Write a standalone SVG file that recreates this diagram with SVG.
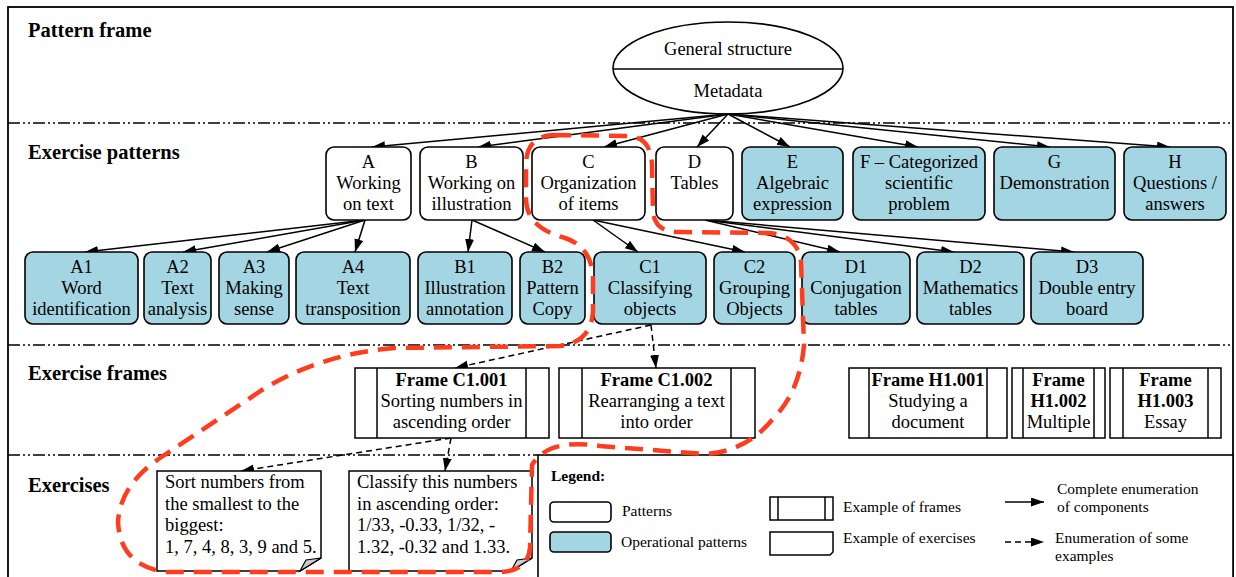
<svg xmlns="http://www.w3.org/2000/svg" width="1236" height="577" viewBox="0 0 1236 577">
<style>
.t{font-family:"Liberation Serif","Times New Roman",serif;font-size:18.5px;fill:#000;text-anchor:middle}
.tl{font-family:"Liberation Serif","Times New Roman",serif;font-size:18.5px;fill:#000}
.b{font-weight:bold}
.sec{font-family:"Liberation Serif","Times New Roman",serif;font-size:20.5px;font-weight:bold;fill:#000}
.lg{font-family:"Liberation Serif","Times New Roman",serif;font-size:15.5px;fill:#000}
.pat{fill:#fff;stroke:#000;stroke-width:1.6}
.op{fill:#a3d6e2;stroke:#000;stroke-width:1.6}
.box{fill:#fff;stroke:#000;stroke-width:1.5}
.sep{stroke:#000;stroke-width:1.5;stroke-dasharray:12 3 2 3 2 3;fill:none}
.c{stroke:#000;stroke-width:1.5;fill:none;marker-end:url(#ah)}
.d{stroke:#000;stroke-width:1.5;fill:none;stroke-dasharray:6 4;marker-end:url(#ah)}
.red{stroke:#ff3c1e;stroke-width:4.5;fill:none;stroke-dasharray:18 10}
</style>
<defs>
<marker id="ah" markerUnits="userSpaceOnUse" markerWidth="14" markerHeight="10" refX="13" refY="4.5" orient="auto">
<path d="M0,0 L13,4.5 L0,9 z" fill="#000"/>
</marker>
</defs>
<rect x="0" y="0" width="1236" height="577" fill="#fff"/>
<rect x="8" y="7" width="1225" height="600" fill="none" stroke="#000" stroke-width="1.8"/>
<line class="sep" x1="8" y1="123" x2="1233" y2="123"/>
<line class="sep" x1="8" y1="345" x2="1233" y2="345"/>
<line class="sep" x1="8" y1="455" x2="538" y2="455"/>
<text class="sec" x="28" y="37">Pattern frame</text>
<text class="sec" x="28" y="159">Exercise patterns</text>
<text class="sec" x="28" y="380">Exercise frames</text>
<text class="sec" x="28" y="492">Exercises</text>

<g id="root">
<ellipse cx="728" cy="68" rx="115" ry="46" fill="#fff" stroke="#000" stroke-width="1.6"/>
<line x1="613" y1="69" x2="843" y2="69" stroke="#000" stroke-width="1.6"/>
<text class="t" x="728" y="55">General structure</text>
<text class="t" x="728" y="97">Metadata</text>
</g>

<g id="connectors">
<path class="c" d="M728,114 L372,147"/>
<path class="c" d="M728,114 L478,147"/>
<path class="c" d="M728,114 L604,147"/>
<path class="c" d="M728,114 L697,147"/>
<path class="c" d="M728,114 L790,147"/>
<path class="c" d="M728,114 L918,147"/>
<path class="c" d="M728,114 L1050,147"/>
<path class="c" d="M728,114 L1170,147"/>
<path class="c" d="M365,220 L85,252"/>
<path class="c" d="M365,220 L183,252"/>
<path class="c" d="M365,220 L267,252"/>
<path class="c" d="M365,220 L355,252"/>
<path class="c" d="M472,220 L468,252"/>
<path class="c" d="M472,220 L545,252"/>
<path class="c" d="M593,220 L638,252"/>
<path class="c" d="M593,220 L745,252"/>
<path class="c" d="M705,220 L840,252"/>
<path class="c" d="M705,220 L954,252"/>
<path class="c" d="M705,220 L1074,252"/>
<path class="d" d="M651,325 L455,368"/>
<path class="d" d="M651,325 L656,368"/>
<path class="d" d="M451,438 L241,471"/>
<path class="d" d="M451,438 L445,471"/>
</g>

<g id="A"><rect class="pat" x="326" y="147" width="85" height="73" rx="8"/><text class="t" x="368.5" y="168">A</text><text class="t" x="368.5" y="189">Working</text><text class="t" x="368.5" y="210">on text</text></g>
<g id="B"><rect class="pat" x="420" y="147" width="103" height="73" rx="8"/><text class="t" x="471.5" y="168">B</text><text class="t" x="471.5" y="189">Working on</text><text class="t" x="471.5" y="210">illustration</text></g>
<g id="C"><rect class="pat" x="532" y="147" width="113" height="73" rx="8"/><text class="t" x="588.5" y="168">C</text><text class="t" x="588.5" y="189">Organization</text><text class="t" x="588.5" y="210">of items</text></g>
<g id="D"><rect class="pat" x="656" y="147" width="77" height="73" rx="8"/><text class="t" x="694.5" y="168">D</text><text class="t" x="694.5" y="189">Tables</text></g>
<g id="E"><rect class="op" x="742" y="147" width="101" height="73" rx="8"/><text class="t" x="792.5" y="168">E</text><text class="t" x="792.5" y="189">Algebraic</text><text class="t" x="792.5" y="210">expression</text></g>
<g id="F"><rect class="op" x="853" y="147" width="132" height="73" rx="8"/><text class="t" x="919" y="168">F – Categorized</text><text class="t" x="919" y="189">scientific</text><text class="t" x="919" y="210">problem</text></g>
<g id="G"><rect class="op" x="994" y="147" width="121" height="73" rx="8"/><text class="t" x="1054.5" y="168">G</text><text class="t" x="1054.5" y="189">Demonstration</text></g>
<g id="H"><rect class="op" x="1124" y="147" width="102" height="73" rx="8"/><text class="t" x="1175" y="168">H</text><text class="t" x="1175" y="189">Questions /</text><text class="t" x="1175" y="210">answers</text></g>

<g id="A1"><rect class="op" x="25" y="252" width="113" height="72" rx="8"/><text class="t" x="81.5" y="273">A1</text><text class="t" x="81.5" y="294">Word</text><text class="t" x="81.5" y="315">identification</text></g>
<g id="A2"><rect class="op" x="144" y="252" width="67" height="72" rx="8"/><text class="t" x="177.5" y="273">A2</text><text class="t" x="177.5" y="294">Text</text><text class="t" x="177.5" y="315">analysis</text></g>
<g id="A3"><rect class="op" x="219" y="252" width="70" height="72" rx="8"/><text class="t" x="254" y="273">A3</text><text class="t" x="254" y="294">Making</text><text class="t" x="254" y="315">sense</text></g>
<g id="A4"><rect class="op" x="296" y="252" width="114" height="72" rx="8"/><text class="t" x="353" y="273">A4</text><text class="t" x="353" y="294">Text</text><text class="t" x="353" y="315">transposition</text></g>
<g id="B1"><rect class="op" x="418" y="252" width="94" height="72" rx="8"/><text class="t" x="465" y="273">B1</text><text class="t" x="465" y="294">Illustration</text><text class="t" x="465" y="315">annotation</text></g>
<g id="B2"><rect class="op" x="520" y="252" width="65" height="72" rx="8"/><text class="t" x="552.5" y="273">B2</text><text class="t" x="552.5" y="294">Pattern</text><text class="t" x="552.5" y="315">Copy</text></g>
<g id="C1"><rect class="op" x="594" y="252" width="112" height="72" rx="8"/><text class="t" x="650" y="273">C1</text><text class="t" x="650" y="294">Classifying</text><text class="t" x="650" y="315">objects</text></g>
<g id="C2"><rect class="op" x="714" y="252" width="81" height="72" rx="8"/><text class="t" x="754.5" y="273">C2</text><text class="t" x="754.5" y="294">Grouping</text><text class="t" x="754.5" y="315">Objects</text></g>
<g id="D1"><rect class="op" x="802" y="252" width="108" height="72" rx="8"/><text class="t" x="856" y="273">D1</text><text class="t" x="856" y="294">Conjugation</text><text class="t" x="856" y="315">tables</text></g>
<g id="D2"><rect class="op" x="917" y="252" width="107" height="72" rx="8"/><text class="t" x="970.5" y="273">D2</text><text class="t" x="970.5" y="294">Mathematics</text><text class="t" x="970.5" y="315">tables</text></g>
<g id="D3"><rect class="op" x="1031" y="252" width="112" height="72" rx="8"/><text class="t" x="1087" y="273">D3</text><text class="t" x="1087" y="294">Double entry</text><text class="t" x="1087" y="315">board</text></g>

<g id="FC1001"><rect class="box" x="355" y="368" width="194" height="70"/><line class="box" x1="377" y1="368" x2="377" y2="438"/><line class="box" x1="526" y1="368" x2="526" y2="438"/><text class="t b" x="451.5" y="386">Frame C1.001</text><text class="t" x="451.5" y="407">Sorting numbers in</text><text class="t" x="451.5" y="428">ascending order</text></g>
<g id="FC1002"><rect class="box" x="559" y="368" width="196" height="70"/><line class="box" x1="582" y1="368" x2="582" y2="438"/><line class="box" x1="731" y1="368" x2="731" y2="438"/><text class="t b" x="656.5" y="386">Frame C1.002</text><text class="t" x="656.5" y="407">Rearranging a text</text><text class="t" x="656.5" y="428">into order</text></g>
<g id="FH1001"><rect class="box" x="849" y="368" width="158" height="70"/><line class="box" x1="869" y1="368" x2="869" y2="438"/><line class="box" x1="987" y1="368" x2="987" y2="438"/><text class="t b" x="928" y="386">Frame H1.001</text><text class="t" x="928" y="407">Studying a</text><text class="t" x="928" y="428">document</text></g>
<g id="FH1002"><rect class="box" x="1012" y="368" width="93" height="70"/><line class="box" x1="1023" y1="368" x2="1023" y2="438"/><line class="box" x1="1094" y1="368" x2="1094" y2="438"/><text class="t b" x="1058.5" y="386">Frame</text><text class="t b" x="1058.5" y="407">H1.002</text><text class="t" x="1058.5" y="428">Multiple</text></g>
<g id="FH1003"><rect class="box" x="1110" y="368" width="111" height="70"/><line class="box" x1="1123" y1="368" x2="1123" y2="438"/><line class="box" x1="1208" y1="368" x2="1208" y2="438"/><text class="t b" x="1165.5" y="386">Frame</text><text class="t b" x="1165.5" y="407">H1.003</text><text class="t" x="1165.5" y="428">Essay</text></g>

<g id="EX1"><path class="box" d="M157,471 H321 V558 L300,571 H157 Z"/><path d="M300,571 L306,560 L321,558 Z" fill="#ccc" stroke="#000" stroke-width="1.2"/><text class="tl" x="165" y="488">Sort numbers from</text><text class="tl" x="165" y="510">the smallest to the</text><text class="tl" x="165" y="531">biggest:</text><text class="tl" x="165" y="553">1, 7, 4, 8, 3, 9 and 5.</text></g>
<g id="EX2"><path class="box" d="M349,471 H532 V558 L511,571 H349 Z"/><path d="M511,571 L517,560 L532,558 Z" fill="#ccc" stroke="#000" stroke-width="1.2"/><text class="tl" x="357" y="488">Classify this numbers</text><text class="tl" x="357" y="510">in ascending order:</text><text class="tl" x="357" y="531">1/33, -0.33, 1/32, -</text><text class="tl" x="357" y="553">1.32, -0.32 and 1.33.</text></g>

<g id="legend">
<rect x="538" y="455" width="695" height="140" fill="#fff" stroke="#000" stroke-width="1.6"/>
<text class="lg b" x="551" y="481">Legend:</text>
<rect class="pat" x="550" y="502" width="61" height="20" rx="4"/>
<text class="lg" x="622" y="516">Patterns</text>
<rect class="op" x="550" y="532" width="61" height="20" rx="4"/>
<text class="lg" x="621" y="547">Operational patterns</text>
<rect class="box" x="770" y="497" width="63" height="23"/>
<line class="box" x1="778" y1="497" x2="778" y2="520"/>
<line class="box" x1="825" y1="497" x2="825" y2="520"/>
<text class="lg" x="843" y="512">Example of frames</text>
<path class="box" d="M770,532 H833 V552 L830,555 H770 Z"/>
<text class="lg" x="843" y="543">Example of exercises</text>
<path class="c" d="M1005,502 L1044,502"/>
<text class="lg" x="1057" y="494">Complete enumeration</text>
<text class="lg" x="1057" y="512">of components</text>
<path class="d" d="M1005,542 L1044,542"/>
<text class="lg" x="1055" y="543">Enumeration of some</text>
<text class="lg" x="1055" y="561">examples</text>
</g>

<g id="highlight">
<path class="red" d="M553,135 L628,136 Q651,137 652,165 L653,212 Q655,232 678,232 L770,233 Q798,236 801,262 L804,345 Q800,392 772,420 Q745,452 705,454 L600,446 Q548,438 532,465 L530,548 Q528,571 500,572 L165,572 Q120,565 118,522 Q120,485 160,458 L262,390 Q320,354 395,348 L560,346 Q591,342 593,312 L593,275 Q590,246 565,238 Q527,228 526,200 L526,162 Q528,136 553,135 Z"/>
</g>
</svg>
